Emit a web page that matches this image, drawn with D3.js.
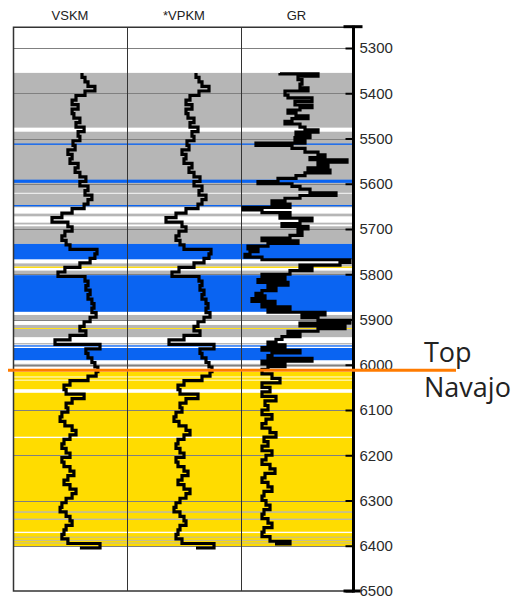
<!DOCTYPE html>
<html>
<head>
<meta charset="utf-8">
<script src="https://cdn.jsdelivr.net/npm/d3@7"></script>
<style>
  body { margin: 0; background: #fff; }
  svg { display: block; }
</style>
</head>
<body>
<script>
// Size of the svg
const w = 514;
const h = 597;

// Track layout
const trackLeft = 13;
const trackWidth = 114;
const axisX = 353.5;

// Depth ticks (ft)
const depthTicks = [5300, 5400, 5500, 5600, 5700, 5800, 5900, 6000, 6100, 6200, 6300, 6400, 6500];
const frameTopDepth = 5254;

// Track headers
const trackNames = ["VSKM", "*VPKM", "GR"];

// VSKM and VPKM are sampled every 10 ft from 5355 ft
const logTop = 5355;
const logStep = 10;

// Shear velocity, km/s
const vskm = [
  3.30, 3.40, 3.50, 3.73, 3.40, 3.10, 2.97, 3.17, 2.97, 3.03,
  3.23, 3.10, 3.37, 3.17, 3.23, 3.00, 3.07, 2.83, 2.97, 2.90,
  3.17, 3.07, 3.23, 3.43, 3.23, 3.50, 3.40, 3.63, 3.50, 3.37,
  2.97, 2.63, 2.30, 2.83, 2.97, 2.73, 2.63, 2.77, 2.90, 3.80,
  3.73, 3.57, 3.23, 2.73, 2.50, 3.40, 3.50, 3.43, 3.57, 3.50,
  3.63, 3.70, 3.63, 3.77, 3.57, 3.37, 3.23, 3.43, 2.90, 2.40,
  3.90, 3.43, 3.50, 3.63, 3.73, 3.83, 3.77, 3.50, 2.90, 2.70,
  2.77, 3.37, 2.97, 2.77, 2.83, 2.63, 2.57, 2.73, 2.97, 3.10,
  2.90, 2.70, 2.63, 2.77, 2.90, 2.63, 2.70, 2.90, 3.03, 2.83,
  2.70, 2.90, 3.10, 2.97, 2.77, 2.63, 2.57, 2.77, 2.90, 2.97,
  2.77, 2.70, 2.63, 2.83, 3.90, 3.23
];

// Compressional velocity, km/s
const vpkm = [
  5.45, 5.60, 5.75, 6.10, 5.60, 5.15, 4.95, 5.25, 4.95, 5.05,
  5.35, 5.15, 5.55, 5.25, 5.35, 5.00, 5.10, 4.75, 4.95, 4.85,
  5.25, 5.10, 5.35, 5.65, 5.35, 5.75, 5.60, 5.95, 5.75, 5.55,
  4.95, 4.45, 3.95, 4.75, 4.95, 4.60, 4.45, 4.65, 4.85, 6.20,
  6.10, 5.85, 5.35, 4.60, 4.25, 5.60, 5.75, 5.65, 5.85, 5.75,
  5.95, 6.05, 5.95, 6.15, 5.85, 5.55, 5.35, 5.65, 4.85, 4.10,
  6.35, 5.65, 5.75, 5.95, 6.10, 6.25, 6.15, 5.75, 4.85, 4.55,
  4.65, 5.55, 4.95, 4.65, 4.75, 4.45, 4.35, 4.60, 4.95, 5.15,
  4.85, 4.55, 4.45, 4.65, 4.85, 4.45, 4.55, 4.85, 5.05, 4.75,
  4.55, 4.85, 5.15, 4.95, 4.65, 4.45, 4.35, 4.65, 4.85, 4.95,
  4.65, 4.55, 4.45, 4.75, 6.35, 5.45
];

// Gamma ray depths (ft) and values (API)
const grDepth = [
  5355, 5357, 5362, 5370, 5380, 5388, 5395, 5404, 5410, 5418,
  5426, 5432, 5437, 5444, 5450, 5456, 5462, 5468, 5475, 5481,
  5486, 5492, 5498, 5504, 5510, 5515, 5522, 5530, 5536, 5542,
  5547, 5552, 5559, 5565, 5570, 5576, 5582, 5588, 5595, 5600,
  5606, 5612, 5620, 5626, 5632, 5638, 5645, 5652, 5658, 5664,
  5670, 5676, 5682, 5688, 5694, 5700, 5707, 5714, 5720, 5726,
  5732, 5738, 5744, 5750, 5756, 5762, 5768, 5774, 5780, 5786,
  5792, 5800, 5806, 5812, 5818, 5824, 5830, 5836, 5842, 5848,
  5854, 5860, 5866, 5872, 5878, 5884, 5890, 5896, 5902, 5908,
  5914, 5920, 5926, 5932, 5938, 5944, 5950, 5956, 5962, 5968,
  5974, 5980, 5986, 5992, 5998, 6004, 6010, 6020, 6030, 6040,
  6050, 6060, 6070, 6080, 6090, 6100, 6110, 6120, 6130, 6140,
  6150, 6160, 6170, 6180, 6190, 6200, 6210, 6220, 6230, 6240,
  6250, 6260, 6270, 6280, 6290, 6300, 6310, 6320, 6330, 6340,
  6350, 6360, 6370, 6380, 6390, 6396
];
const grApi = [
  78, 154, 114, 122, 118, 134, 88, 94, 142, 108,
  142, 118, 94, 110, 134, 102, 88, 118, 128, 154,
  110, 138, 108, 128, 30, 102, 128, 154, 168, 138,
  212, 154, 174, 134, 178, 128, 110, 74, 34, 102,
  118, 138, 190, 118, 88, 62, 98, 4, 42, 98,
  78, 142, 118, 82, 134, 114, 122, 98, 42, 114,
  54, 14, 34, 18, 8, 42, 218, 198, 118, 142,
  98, 42, 88, 34, 94, 54, 70, 42, 30, 48,
  22, 68, 42, 98, 54, 168, 122, 154, 218, 118,
  208, 154, 94, 118, 82, 70, 54, 88, 42, 118,
  62, 54, 142, 42, 88, 54, 42, 62, 78, 42,
  58, 42, 70, 48, 54, 42, 62, 50, 42, 58,
  70, 46, 54, 42, 62, 50, 42, 58, 68, 48,
  42, 54, 62, 46, 42, 50, 58, 46, 42, 54,
  62, 46, 42, 58, 98, 68
];

// Lithology bands: top (ft), base (ft), type
const lithBands = [
  [5355, 5476, "shale"], [5485, 5652, "shale"], [5511, 5514, "water"],
  [5591, 5598, "water"], [5620, 5622, "blank"], [5647, 5650, "water"],
  [5666, 5672, "shale"], [5686, 5690, "shale"], [5694, 5733, "shale"],
  [5733, 5767, "water"], [5776, 5783, "shale"], [5783, 5786, "sand"],
  [5792, 5802, "shale"], [5802, 5883, "water"], [5890, 5901, "shale"],
  [5912, 5919, "shale"], [5919, 5921, "sand"], [5921, 5939, "shale"],
  [5952, 5955, "shale"], [5957, 5960, "water"], [5963, 5990, "water"],
  [5998, 6005, "shale"], [6016, 6401, "sand"], [6026, 6028, "blank"],
  [6033, 6035, "blank"], [6054, 6062, "blank"], [6159, 6162, "blank"],
  [6324, 6327, "shale"], [6340, 6343, "shale"], [6369, 6372, "blank"],
  [6380, 6382, "shale"], [6387, 6389, "shale"], [6393, 6395, "shale"]
];
const lithColors = { shale: "#b6b6b6", water: "#0a64f2", sand: "#ffdc00", blank: "#ffffff" };

// Formation top
const markerDepth = 6012;
const markerName = ["Top", "Navajo"];

const svg = d3.select("body").append("svg").attr("width", w).attr("height", h);

// Scales
const yScale = d3.scaleLinear().domain([5300, 6500]).range([48, 591]);
const vsScale = d3.scaleLinear().domain([1, 4.8]).range([trackLeft, trackLeft + trackWidth]);
const vpScale = d3.scaleLinear().domain([2, 7.7]).range([trackLeft + trackWidth, trackLeft + 2 * trackWidth]);
const grScale = d3.scaleLinear().domain([0, 228]).range([trackLeft + 2 * trackWidth, trackLeft + 3 * trackWidth]);

const rightEdge = axisX - 1.5;
const frameTop = yScale(frameTopDepth);
const frameBottom = yScale(6500);

// Lithology fill
svg.append("g")
  .selectAll("rect")
  .data(lithBands)
  .enter()
  .append("rect")
  .attr("x", trackLeft)
  .attr("width", rightEdge - trackLeft)
  .attr("y", d => yScale(d[0]))
  .attr("height", d => yScale(d[1]) - yScale(d[0]))
  .attr("fill", d => lithColors[d[2]]);

// Grid lines every 100 ft
svg.append("g")
  .selectAll("line")
  .data(depthTicks.slice(0, -1))
  .enter()
  .append("line")
  .attr("x1", trackLeft)
  .attr("x2", rightEdge)
  .attr("y1", d => Math.round(yScale(d)) + 0.5)
  .attr("y2", d => Math.round(yScale(d)) + 0.5)
  .attr("stroke", "#808080")
  .attr("stroke-width", 1);

// Track borders
[1, 2].forEach(i => {
  svg.append("line")
    .attr("x1", trackLeft + i * trackWidth + 0.5)
    .attr("x2", trackLeft + i * trackWidth + 0.5)
    .attr("y1", frameTop)
    .attr("y2", frameBottom)
    .attr("stroke", "#333")
    .attr("stroke-width", 1);
});
svg.append("path")
  .attr("d", `M${axisX - 8},${frameTop}H${trackLeft + 0.5}V${frameBottom}H${axisX}`)
  .attr("fill", "none")
  .attr("stroke", "#333")
  .attr("stroke-width", 1.5);

// Curves
function drawCurve(values, depths, xScale) {
  const pts = values.map((v, i) => [v, depths[i]]);
  const line = d3.line()
    .x(d => xScale(d[0]))
    .y(d => yScale(d[1]))
    .curve(d3.curveStepBefore);
  svg.append("path")
    .datum(pts)
    .attr("d", line)
    .attr("fill", "none")
    .attr("stroke", "#000")
    .attr("stroke-width", 3.2)
    .attr("stroke-linejoin", "miter");
}
const logDepths = vskm.map((v, i) => logTop + i * logStep);
drawCurve(vskm, logDepths, vsScale);
drawCurve(vpkm, logDepths, vpScale);
drawCurve(grApi, grDepth, grScale);

// Headers
svg.append("g")
  .selectAll("text")
  .data(trackNames)
  .enter()
  .append("text")
  .attr("x", (d, i) => trackLeft + (i + 0.5) * trackWidth - (i === 2 ? 1.5 : 0))
  .attr("y", 20)
  .attr("text-anchor", "middle")
  .attr("font-family", "Liberation Sans, Arial, sans-serif")
  .attr("font-size", 13)
  .attr("fill", "#222")
  .text(d => d);

// Depth axis
const yAxis = d3.axisRight(yScale)
  .tickValues(depthTicks)
  .tickSize(-8)
  .tickSizeOuter(0)
  .tickPadding(6)
  .tickFormat(d3.format("d"));

const axisG = svg.append("g")
  .attr("transform", "translate(" + axisX + ",0)")
  .call(yAxis);
axisG.select(".domain").remove();
axisG.selectAll(".tick line").attr("stroke", "#000").attr("stroke-width", 2);
axisG.selectAll(".tick text")
  .attr("font-family", "Liberation Sans, Arial, sans-serif")
  .attr("font-size", 15)
  .attr("fill", "#2a2a2a");

axisG.append("line")
  .attr("y1", frameTop - 1.5)
  .attr("y2", frameBottom + 1.5)
  .attr("stroke", "#000")
  .attr("stroke-width", 3);
axisG.append("line")
  .attr("x1", -10).attr("x2", 9)
  .attr("y1", frameTop - 0.5).attr("y2", frameTop - 0.5)
  .attr("stroke", "#000").attr("stroke-width", 3);
axisG.append("line")
  .attr("x1", -10).attr("x2", 7)
  .attr("y1", frameBottom).attr("y2", frameBottom)
  .attr("stroke", "#000").attr("stroke-width", 3);

// Formation top marker
svg.append("line")
  .attr("x1", 8)
  .attr("x2", 456)
  .attr("y1", yScale(markerDepth))
  .attr("y2", yScale(markerDepth))
  .attr("stroke", "#ff7b00")
  .attr("stroke-width", 3);

svg.append("text")
  .attr("font-family", "Open Sans, Noto Sans, sans-serif")
  .attr("font-size", 27)
  .attr("fill", "#222")
  .selectAll("tspan")
  .data(markerName)
  .enter()
  .append("tspan")
  .attr("x", 424)
  .attr("y", (d, i) => yScale(markerDepth) - 8 + i * 35)
  .text(d => d);
</script>
</body>
</html>
